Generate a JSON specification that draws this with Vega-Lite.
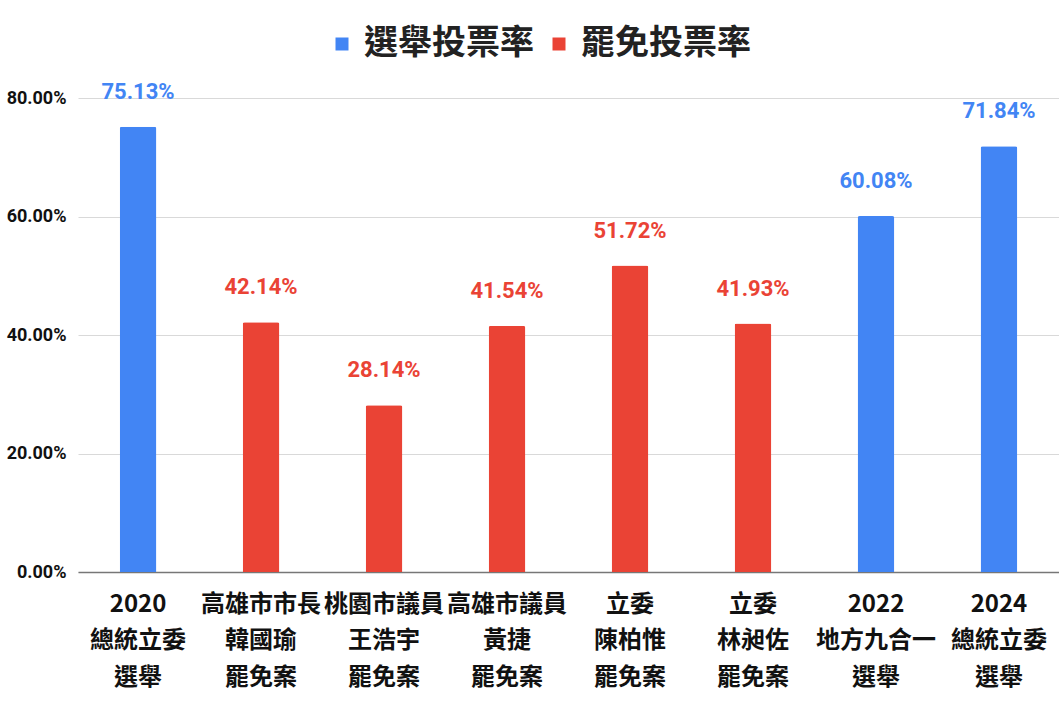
{
  "$schema": "https://vega.github.io/schema/vega-lite/v6.json",
  "autosize": {"type": "none"},
  "width": 981,
  "height": 474,
  "padding": {"left": 78, "top": 98, "right": 0, "bottom": 136},
  "background": "white",
  "data": {
    "values": [
      {"name": "2020|總統立委|選舉", "type": "選舉投票率", "rate": 0.7513},
      {"name": "高雄市市長|韓國瑜|罷免案", "type": "罷免投票率", "rate": 0.4214},
      {"name": "桃園市議員|王浩宇|罷免案", "type": "罷免投票率", "rate": 0.2814},
      {"name": "高雄市議員|黃捷|罷免案", "type": "罷免投票率", "rate": 0.4154},
      {"name": "立委|陳柏惟|罷免案", "type": "罷免投票率", "rate": 0.5172},
      {"name": "立委|林昶佐|罷免案", "type": "罷免投票率", "rate": 0.4193},
      {"name": "2022|地方九合一|選舉", "type": "選舉投票率", "rate": 0.6008},
      {"name": "2024|總統立委|選舉", "type": "選舉投票率", "rate": 0.7184}
    ]
  },
  "encoding": {
    "x": {
      "field": "name",
      "type": "nominal",
      "sort": null,
      "title": null,
      "scale": {"paddingInner": 0.7016, "paddingOuter": 0.339},
      "axis": {
        "labelExpr": "split(datum.value, '|')",
        "labelAngle": 0,
        "labelFont": "Noto Sans CJK TC",
        "labelFontWeight": "bold",
        "labelFontSize": 24,
        "labelLineHeight": 36.5,
        "labelColor": "#111111",
        "labelPadding": 20,
        "labelOverlap": false,
        "labelLimit": 0,
        "labelBound": false,
        "ticks": false,
        "domainColor": "#777777",
        "domainWidth": 1.5,
        "grid": false
      }
    },
    "y": {
      "field": "rate",
      "type": "quantitative",
      "title": null,
      "scale": {"domain": [0, 0.8], "nice": false},
      "axis": {
        "values": [0, 0.2, 0.4, 0.6, 0.8],
        "format": ".2%",
        "labelFont": "Roboto",
        "labelFontWeight": "bold",
        "labelFontSize": 18,
        "labelColor": "#111111",
        "labelPadding": 12,
        "ticks": false,
        "domain": false,
        "gridColor": "#d9d9d9",
        "gridWidth": 1
      }
    },
    "color": {
      "field": "type",
      "type": "nominal",
      "title": null,
      "scale": {
        "domain": ["選舉投票率", "罷免投票率"],
        "range": ["#4285F4", "#EA4335"]
      },
      "legend": {
        "orient": "none",
        "direction": "horizontal",
        "legendX": 247,
        "legendY": -71,
        "symbolType": "square",
        "symbolSize": 169,
        "symbolStrokeWidth": 0,
        "labelFont": "Noto Sans CJK TC",
        "labelFontWeight": "bold",
        "labelFontSize": 34,
        "labelColor": "#222222",
        "labelOffset": 5,
        "columnPadding": 8,
        "labelLimit": 0
      }
    }
  },
  "layer": [
    {
      "mark": {"type": "bar", "cornerRadiusTopLeft": 2, "cornerRadiusTopRight": 2}
    },
    {
      "mark": {
        "type": "text",
        "dy": -35,
        "font": "Roboto",
        "fontWeight": "bold",
        "fontSize": 22
      },
      "encoding": {
        "text": {"field": "rate", "type": "quantitative", "format": ".2%"}
      }
    }
  ],
  "config": {
    "view": {"stroke": null}
  }
}
